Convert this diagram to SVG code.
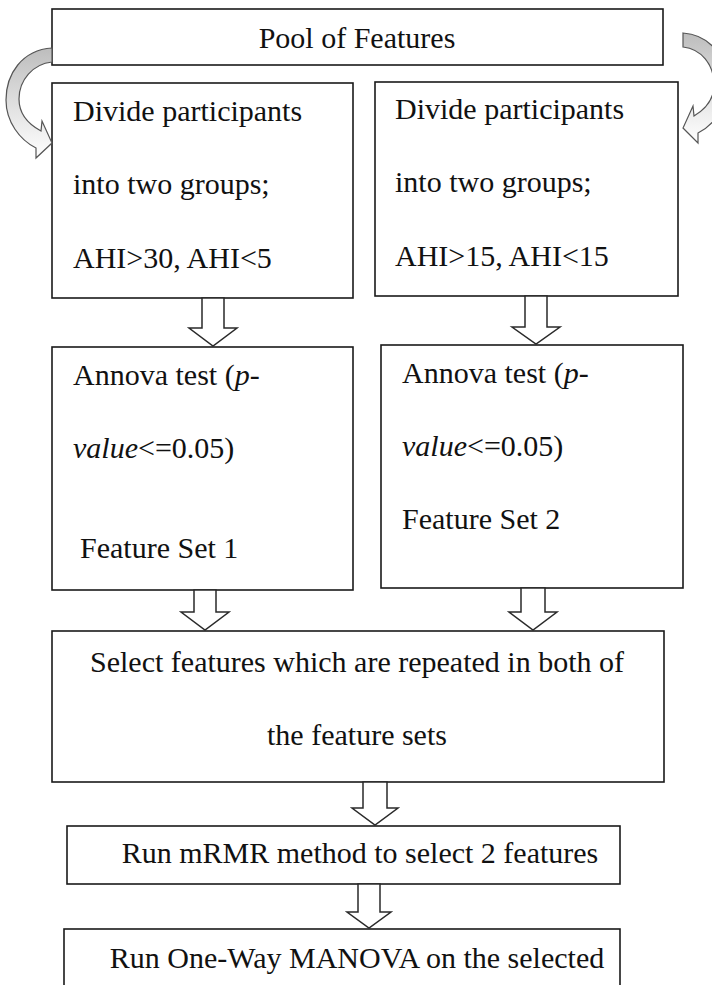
<svg xmlns="http://www.w3.org/2000/svg" width="712" height="985" viewBox="0 0 712 985">
  <style>
    .box { fill: #ffffff; stroke: #1a1a1a; stroke-width: 1.6; }
    .blk { fill: #ffffff; stroke: #2a2a2a; stroke-width: 1.5; stroke-linejoin: miter; }
    .curl { stroke: #555555; stroke-width: 1.2; }
  </style>
  <defs>
    <linearGradient id="curlFadeL" x1="0" y1="0" x2="0" y2="1">
      <stop offset="0" stop-color="#bdbdbd"/>
      <stop offset="0.55" stop-color="#e2e2e2"/>
      <stop offset="1" stop-color="#ffffff"/>
    </linearGradient>
  </defs>

  <rect width="712" height="985" fill="#ffffff"/>

  <g id="pool">
    <rect class="box" x="52" y="9" width="611" height="56"/>
    <text font-family="Liberation Serif" font-size="30" fill="#111" text-anchor="middle" x="357" y="48">Pool of Features</text>
  </g>

  <g id="divide-left">
    <rect class="box" x="52" y="83" width="301" height="215"/>
    <text font-family="Liberation Serif" font-size="30" fill="#111" x="73" y="121">Divide participants</text>
    <text font-family="Liberation Serif" font-size="30" fill="#111" x="73" y="194">into two groups;</text>
    <text font-family="Liberation Serif" font-size="30" fill="#111" x="73" y="268">AHI&gt;30, AHI&lt;5</text>
  </g>

  <g id="divide-right">
    <rect class="box" x="375" y="82" width="303" height="214"/>
    <text font-family="Liberation Serif" font-size="30" fill="#111" x="395" y="119">Divide participants</text>
    <text font-family="Liberation Serif" font-size="30" fill="#111" x="395" y="192">into two groups;</text>
    <text font-family="Liberation Serif" font-size="30" fill="#111" x="395" y="266">AHI&gt;15, AHI&lt;15</text>
  </g>

  <g id="anova-left">
    <rect class="box" x="52" y="347" width="301" height="243"/>
    <text font-family="Liberation Serif" font-size="30" fill="#111" x="73" y="385">Annova test (<tspan font-style="italic">p</tspan>-</text>
    <text font-family="Liberation Serif" font-size="30" fill="#111" x="73" y="458"><tspan font-style="italic">value</tspan>&lt;=0.05)</text>
    <text font-family="Liberation Serif" font-size="30" fill="#111" x="80" y="558">Feature Set 1</text>
  </g>

  <g id="anova-right">
    <rect class="box" x="381" y="345" width="302" height="243"/>
    <text font-family="Liberation Serif" font-size="30" fill="#111" x="402" y="383">Annova test (<tspan font-style="italic">p</tspan>-</text>
    <text font-family="Liberation Serif" font-size="30" fill="#111" x="402" y="456"><tspan font-style="italic">value</tspan>&lt;=0.05)</text>
    <text font-family="Liberation Serif" font-size="30" fill="#111" x="402" y="529">Feature Set 2</text>
  </g>

  <g id="select-common">
    <rect class="box" x="52" y="631" width="612" height="151"/>
    <text font-family="Liberation Serif" font-size="30" fill="#111" text-anchor="middle" x="357" y="672">Select features which are repeated in both of</text>
    <text font-family="Liberation Serif" font-size="30" fill="#111" text-anchor="middle" x="357" y="745">the feature sets</text>
  </g>

  <g id="mrmr">
    <rect class="box" x="67" y="826" width="553" height="58"/>
    <text font-family="Liberation Serif" font-size="30" fill="#111" text-anchor="middle" x="360" y="863">Run mRMR method to select 2 features</text>
  </g>

  <g id="manova">
    <rect class="box" x="64" y="929" width="556" height="70"/>
    <text font-family="Liberation Serif" font-size="30" fill="#111" text-anchor="middle" x="357" y="968">Run One-Way MANOVA on the selected</text>
  </g>

  <g id="connectors">
    <!-- curved split arrows leaving the pool -->
    <path class="curl" fill="url(#curlFadeL)" d="M 52 48 C 22 50, 6 74, 6 100 C 6 122, 20 140, 36 148 L 36 158 L 52 143 L 42 121 L 41 131 C 28 124, 19 113, 19 99 C 19 80, 33 64, 52 62 Z"/>
    <path class="curl" fill="url(#curlFadeL)" d="M 683 33 C 712 35, 728 60, 727 86 C 726 108, 714 125, 698 133 L 698 143 L 683 128 L 693 106 L 694 116 C 706 109, 714 98, 714 85 C 714 64, 701 49, 683 47 Z"/>

    <!-- block arrows down the flow -->
    <path class="blk" d="M 202 298 L 224 298 L 224 328 L 237 328 L 213 346 L 189 328 L 202 328 Z"/>
    <path class="blk" d="M 525 296 L 547 296 L 547 327 L 560 327 L 536 344 L 512 327 L 525 327 Z"/>
    <path class="blk" d="M 194 590 L 216 590 L 216 612 L 229 612 L 205 630 L 181 612 L 194 612 Z"/>
    <path class="blk" d="M 521 588 L 545 588 L 545 612 L 557 612 L 533 630 L 509 612 L 521 612 Z"/>
    <path class="blk" d="M 363 782 L 387 782 L 387 808 L 398 808 L 375 825 L 352 808 L 363 808 Z"/>
    <path class="blk" d="M 358 884 L 380 884 L 380 912 L 391 912 L 369 928 L 347 912 L 358 912 Z"/>
  </g>
</svg>
